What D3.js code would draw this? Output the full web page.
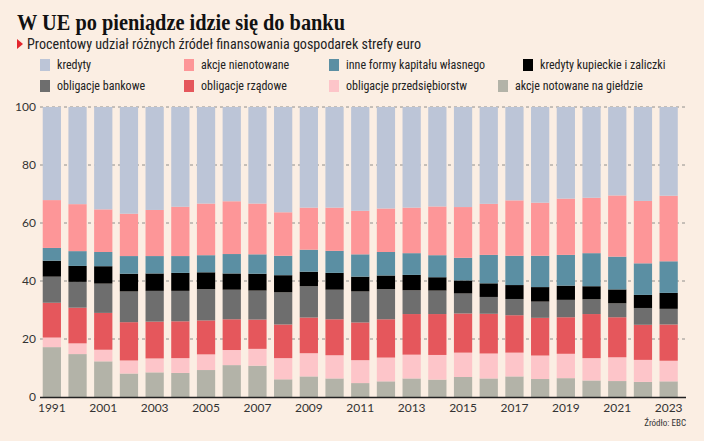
<!DOCTYPE html>
<html>
<head>
<meta charset="utf-8">
<script src="https://cdn.jsdelivr.net/npm/d3@7"></script>
<style>
  body { margin: 0; background: #fbeee3; }
  svg { display: block; }
</style>
</head>
<body>
<svg id="chart"></svg>
<script>
var width = 704;
var height = 441;

// lata (drugi słupek bez podpisu)
var years = ["1991", "2000", "2001", "2002", "2003", "2004", "2005", "2006", "2007", "2008", "2009", "2010",
  "2011", "2012", "2013", "2014", "2015", "2016", "2017", "2018", "2019", "2020", "2021", "2022", "2023"];
var yearLabels = ["1991", "2001", "2003", "2005", "2007", "2009", "2011", "2013", "2015", "2017", "2019", "2021", "2023"];
var yTicks = [0, 20, 40, 60, 80, 100];

// udział w %, od dołu słupka
var akcjeNotowane = [17.2, 14.8, 12.3, 8.1, 8.5, 8.3, 9.3, 11.0, 10.8, 6.1, 7.1, 6.4, 4.8, 5.4, 6.4, 6.0, 6.9, 6.4, 7.1, 6.2, 6.5, 5.7, 5.5, 5.2, 5.4];
var oblPrzedsiebiorstw = [3.3, 3.7, 4.0, 4.5, 4.8, 5.1, 5.4, 5.2, 5.8, 7.3, 8.0, 8.0, 7.9, 8.2, 8.2, 8.5, 8.4, 8.6, 8.2, 8.1, 8.4, 7.7, 8.2, 7.6, 7.1];
var oblRzadowe = [12.0, 12.3, 12.7, 13.2, 12.7, 12.7, 11.7, 10.6, 10.1, 11.6, 12.3, 12.4, 13.0, 13.2, 14.0, 14.1, 13.5, 13.7, 12.9, 13.0, 12.6, 15.2, 13.8, 12.1, 12.5];
var oblBankowe = [9.0, 8.9, 10.1, 10.6, 10.6, 10.5, 10.8, 10.2, 10.0, 11.1, 10.8, 10.2, 10.7, 10.4, 8.2, 8.1, 6.9, 5.8, 5.6, 5.6, 6.0, 5.1, 4.8, 5.8, 5.4];
var kredytyKupieckie = [5.5, 5.5, 6.0, 6.1, 6.0, 6.2, 5.8, 5.6, 5.8, 5.9, 5.0, 5.8, 5.1, 4.7, 5.3, 4.6, 4.5, 4.7, 4.8, 5.0, 4.9, 4.5, 4.8, 4.5, 5.5];
var inneFormy = [4.4, 5.1, 4.9, 6.1, 6.0, 5.8, 5.9, 6.7, 6.7, 6.7, 7.6, 7.6, 7.7, 8.1, 7.5, 7.6, 7.8, 9.8, 10.1, 10.8, 10.6, 11.4, 11.3, 10.9, 10.9];
var akcjeNienotowane = [16.5, 16.2, 14.7, 14.6, 15.9, 17.0, 17.8, 18.2, 17.5, 15.0, 14.5, 14.9, 15.0, 15.0, 15.7, 16.8, 17.5, 17.6, 19.1, 18.3, 19.4, 19.1, 21.1, 21.5, 22.6];
var kredyty = [32.1, 33.5, 35.3, 36.8, 35.5, 34.4, 33.3, 32.5, 33.3, 36.3, 34.7, 34.7, 35.8, 35.0, 34.7, 34.3, 34.5, 33.4, 32.2, 33.0, 31.6, 31.3, 30.5, 32.4, 30.6];

var seriesNames = ["akcje notowane na giełdzie", "obligacje przedsiębiorstw", "obligacje rządowe", "obligacje bankowe",
  "kredyty kupieckie i zaliczki", "inne formy kapitału własnego", "akcje nienotowane", "kredyty"];
var seriesValues = [akcjeNotowane, oblPrzedsiebiorstw, oblRzadowe, oblBankowe, kredytyKupieckie, inneFormy, akcjeNienotowane, kredyty];
var seriesColors = ["#b3b3a8", "#fdc5c9", "#e5575c", "#6e6e6e", "#000000", "#5b8fa3", "#fd9698", "#bcc5d7"];

// kolejność w legendzie
var legendOrder = ["kredyty", "akcje nienotowane", "inne formy kapitału własnego", "kredyty kupieckie i zaliczki",
  "obligacje bankowe", "obligacje rządowe", "obligacje przedsiębiorstw", "akcje notowane na giełdzie"];
var legendX = [40, 184, 329, 523, 40, 184, 329, 498];

var narrow = "'Liberation Sans Narrow', 'Roboto Condensed', Roboto, sans-serif";

var rows = years.map(function(y, i) {
  var r = { year: y };
  seriesNames.forEach(function(n, j) { r[n] = seriesValues[j][i]; });
  return r;
});

var svg = d3.select("#chart")
    .attr("width", width)
    .attr("height", height);

svg.append("rect")
    .attr("width", width)
    .attr("height", height)
    .attr("fill", "#fbeee3");

// tytuł
svg.append("text")
    .attr("x", 17)
    .attr("y", 30)
    .attr("textLength", 328)
    .attr("lengthAdjust", "spacingAndGlyphs")
    .style("font-family", "'Liberation Serif', serif")
    .style("font-weight", "bold")
    .style("font-size", "24px")
    .style("fill", "#111")
    .text("W UE po pieniądze idzie się do banku");

svg.append("path")
    .attr("d", "M17,39 L23,44 L17,49 Z")
    .attr("fill", "#e3262d");

svg.append("text")
    .attr("x", 27)
    .attr("y", 49)
    .attr("textLength", 394)
    .attr("lengthAdjust", "spacingAndGlyphs")
    .style("font-family", narrow)
    .style("font-size", "14px")
    .style("fill", "#222")
    .text("Procentowy udział różnych źródeł finansowania gospodarek strefy euro");

// legenda
var legend = svg.append("g");
legendOrder.forEach(function(name, i) {
  var rowY = i < 4 ? 65 : 86;
  var c = seriesColors[seriesNames.indexOf(name)];
  legend.append("rect")
      .attr("x", legendX[i])
      .attr("y", rowY - 6)
      .attr("width", 10)
      .attr("height", 12)
      .attr("fill", c);
  legend.append("text")
      .attr("x", legendX[i] + 17)
      .attr("y", rowY + 4)
      .style("font-family", narrow)
      .style("font-size", "12px")
      .style("fill", "#222")
      .text(name);
});

var x = d3.scaleBand()
    .domain(years)
    .range([39, 681.5])
    .paddingInner(0.29)
    .paddingOuter(0.145);

var y = d3.scaleLinear()
    .domain([0, 100])
    .range([397, 107]);

// siatka
svg.append("g")
  .selectAll("line")
  .data(yTicks.filter(function(d) { return d > 0; }))
  .join("line")
    .attr("x1", 40)
    .attr("x2", 688)
    .attr("y1", function(d) { return y(d); })
    .attr("y2", function(d) { return y(d); })
    .attr("stroke", "#777")
    .attr("stroke-width", 0.8)
    .attr("stroke-dasharray", "3,3");

var stack = d3.stack().keys(seriesNames);
var layers = stack(rows);

svg.append("g")
  .selectAll("g")
  .data(layers)
  .join("g")
    .attr("fill", function(d, i) { return seriesColors[i]; })
  .selectAll("rect")
  .data(function(d) { return d; })
  .join("rect")
    .attr("x", function(d) { return x(d.data.year); })
    .attr("width", x.bandwidth())
    .attr("y", function(d) { return y(d[1]); })
    .attr("height", function(d) { return y(d[0]) - y(d[1]); });

// oś Y
var yAxis = svg.append("g")
    .attr("transform", "translate(40,0)")
    .call(d3.axisLeft(y).tickValues(yTicks).tickSize(0).tickPadding(4));
yAxis.select(".domain").remove();
yAxis.selectAll("text")
    .style("font-family", "Lato, sans-serif")
    .style("font-size", "12px")
    .style("fill", "#333");

// oś X
var xAxis = svg.append("g")
    .attr("transform", "translate(0,397)")
    .call(d3.axisBottom(x).tickSize(0).tickPadding(6)
      .tickFormat(function(d) { return yearLabels.indexOf(d) >= 0 ? d : ""; }));
xAxis.select(".domain")
    .attr("d", "M40,0.5H686")
    .attr("stroke", "#222")
    .attr("stroke-width", 1.5);
xAxis.selectAll("text")
    .style("font-family", "Lato, sans-serif")
    .style("font-size", "12px")
    .style("fill", "#333");

svg.append("text")
    .attr("x", 686)
    .attr("y", 426)
    .attr("text-anchor", "end")
    .style("font-family", narrow)
    .style("font-size", "9px")
    .style("fill", "#333")
    .text("Źródło: EBC");
</script>
</body>
</html>
